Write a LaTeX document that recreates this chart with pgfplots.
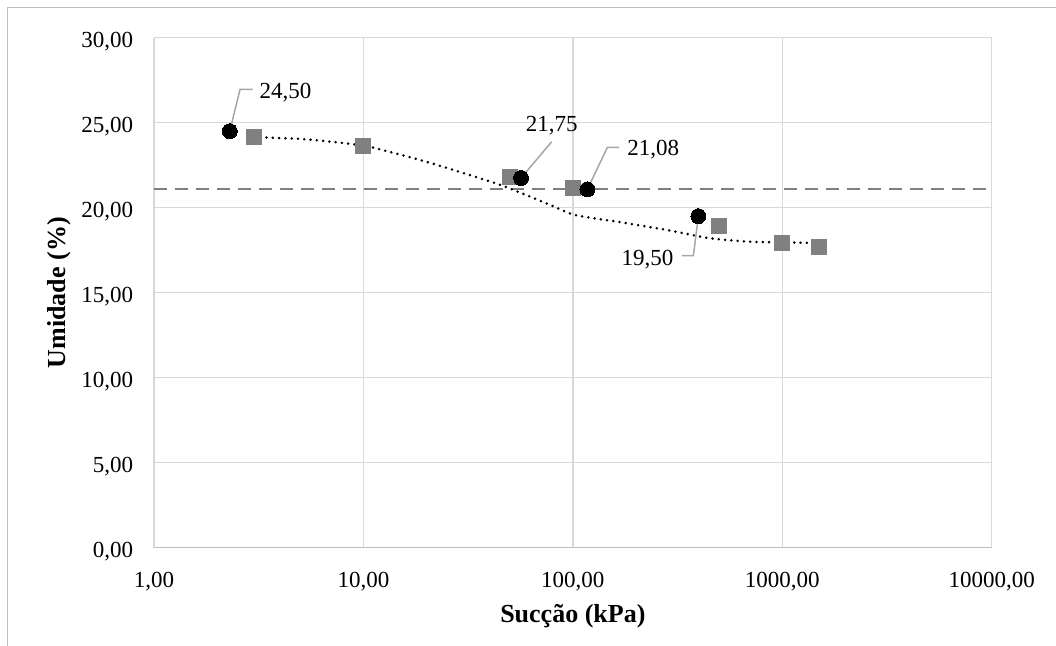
\documentclass[border=0pt]{standalone}
\usepackage{fontspec}
\setmainfont{Liberation Serif}
\usepackage{pgfplots}
\pgfplotsset{compat=1.18}
\definecolor{gridc}{RGB}{217,217,217}
\definecolor{axc}{RGB}{191,191,191}
\definecolor{sqc}{RGB}{128,128,128}
\definecolor{dashc}{RGB}{128,128,128}
\definecolor{leadc}{RGB}{166,166,166}
\begin{document}
\begin{tikzpicture}[x=1pt,y=1pt]
\useasboundingbox (0,0) rectangle (1056,645);
\draw[color=axc, line width=1.5pt] (7.3,-5) -- (7.3,637.7) -- (1060,637.7);
\begin{axis}[
  at={(154pt,97.3pt)}, anchor=south west,
  width=837.7pt, height=510pt, scale only axis,
  xmode=log, xmin=1, xmax=10000, ymin=0, ymax=30,
  xtick={1,10,100,1000,10000},
  xticklabels={{1,00},{10,00},{100,00},{1000,00},{10000,00}},
  ytick={0,5,10,15,20,25,30},
  yticklabels={{0,00},{5,00},{10,00},{15,00},{20,00},{25,00},{30,00}},
  minor xtick={}, minor ytick={},
  grid=major, major grid style={draw=gridc, line width=1.3pt},
  axis line style={draw=none}, major tick length=0pt, minor tick length=0pt,
  tick style={draw=none}, minor tick style={draw=none},
  xticklabel style={anchor=base, inner sep=0pt, yshift=-39.3pt, font=\fontsize{23}{27}\selectfont},
  yticklabel style={anchor=base east, inner sep=0pt, xshift=-20.7pt, yshift=-9.6pt, font=\fontsize{23}{27}\selectfont},
  xlabel={\textbf{Sucção (kPa)}},
  ylabel={\textbf{Umidade (\%)}},
  xlabel style={at={(axis description cs:0.5,-0.1476)}, anchor=base, inner sep=0pt, font=\fontsize{26}{30}\selectfont},
  ylabel style={at={(axis description cs:-0.1062,0.5)}, anchor=base, inner sep=0pt, font=\fontsize{26}{30}\selectfont},
  clip=false,
]
% dashed reference line
\addplot[draw=dashc, line width=2.2pt, dash pattern=on 13pt off 8pt] coordinates {(1,21.1) (10000,21.1)};
% squares
\addplot[sqc, only marks, mark=square*, mark size=7.5pt, mark options={fill=sqc, draw=sqc, line width=0pt}]
  coordinates {(3,24.15) (10,23.63) (50,21.82) (100,21.14) (500,18.94) (1000,17.94) (1500,17.71)};
% dotted fitted curve
\addplot[black, line width=2.8pt, dash pattern=on 0pt off 6.3pt, line cap=round, smooth, tension=0.4]
  coordinates {(3,24.15) (5.36,24.02) (10,23.65) (15,23.12) (22,22.55) (45,21.34) (78,20.16) (100,19.6) (135,19.32) (162,19.18) (281,18.69) (452,18.2) (702,18.0) (1000,17.96) (1500,17.92)};
% circles
\addplot[black, only marks, mark=*, mark size=7.5pt, mark options={fill=black, draw=black, line width=0pt}]
  coordinates {(2.3,24.5) (56.6,21.75) (117.3,21.08) (397.5,19.5)};
% leader lines
\draw[leadc, line width=1.5pt] (axis cs:2.3,24.5) -- (axis cs:2.575,26.96) -- (axis cs:2.96,26.96);
\draw[leadc, line width=1.5pt] (axis cs:56.6,21.75) -- (axis cs:79.3,23.88);
\draw[leadc, line width=1.5pt] (axis cs:117.3,21.08) -- (axis cs:146.2,23.55) -- (axis cs:166.2,23.55);
\draw[leadc, line width=1.5pt] (axis cs:397.5,19.5) -- (axis cs:376.3,17.18) -- (axis cs:331.2,17.18);
% labels
\node[anchor=base west, inner sep=0pt, font=\fontsize{23}{27}\selectfont] at (axis cs:3.19,26.44) {24,50};
\node[anchor=base, inner sep=0pt, font=\fontsize{23}{27}\selectfont] at (axis cs:79.3,24.51) {21,75};
\node[anchor=base west, inner sep=0pt, font=\fontsize{23}{27}\selectfont] at (axis cs:181.5,23.06) {21,08};
\node[anchor=base east, inner sep=0pt, font=\fontsize{23}{27}\selectfont] at (axis cs:302.7,16.59) {19,50};
% bottom axis line
\draw[axc, line width=1.5pt] (rel axis cs:0,0) -- (rel axis cs:1,0);
\end{axis}
\end{tikzpicture}
\end{document}
